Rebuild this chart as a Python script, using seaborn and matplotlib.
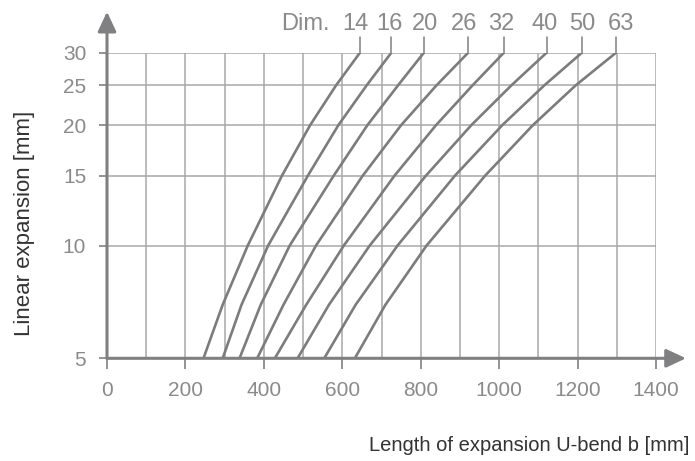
import numpy as np
import pandas as pd
import matplotlib
matplotlib.use('Agg')
import matplotlib.pyplot as plt
import seaborn as sns

# Values
dims = [14, 16, 20, 26, 32, 40, 50, 63]
expansion_mm = [5, 7, 10, 15, 20, 25, 30]
b_14 = [246, 295, 359, 446, 518, 584, 645]
b_16 = [295, 343, 411, 512, 590, 662, 725]
b_20 = [338, 392, 466, 578, 664, 742, 808]
b_26 = [383, 450, 533, 652, 750, 840, 921]
b_32 = [428, 508, 604, 733, 839, 932, 1012]
b_40 = [486, 566, 670, 813, 929, 1031, 1121]
b_50 = [554, 634, 741, 887, 1008, 1115, 1211]
b_63 = [632, 710, 815, 964, 1086, 1195, 1298]
y_ticks = [5, 10, 15, 20, 25, 30]
x_ticks = [0, 200, 400, 600, 800, 1000, 1200, 1400]

curves = [b_14, b_16, b_20, b_26, b_32, b_40, b_50, b_63]
df = pd.DataFrame({
    'dim': np.repeat(dims, len(expansion_mm)),
    'b': np.concatenate(curves),
    'dl': expansion_mm * len(dims),
})

sns.set_style('white')
plt.rcParams['font.family'] = ['Liberation Sans', 'DejaVu Sans']

curve_col = '#7c7c7e'
grid_col = '#a8a8a8'
axis_col = '#808082'
text_col = '#8a8a8c'
title_col = '#333333'

fig = plt.figure(figsize=(6.95, 4.61), dpi=100)
ax = fig.add_axes([107 / 695, (461 - 358.3) / 461, 549 / 695, 305.6 / 461])

ax.set_yscale('function', functions=(lambda y: np.log(np.asarray(y) + 1.0),
                                     lambda v: np.exp(np.asarray(v)) - 1.0))

sns.lineplot(data=df, x='b', y='dl', hue='dim', palette=[curve_col] * len(dims),
             legend=False, linewidth=1.9, ax=ax, sort=False, estimator=None)

ax.set_xlim(0, 1400)
ax.set_ylim(5, 30)
ax.set_xticks(x_ticks)
ax.set_xticks(np.arange(0, 1401, 100), minor=True)
ax.set_yticks(y_ticks)
ax.set_yticklabels([str(v) for v in y_ticks])
ax.grid(True, which='both', axis='x', color=grid_col, linewidth=1.1)
ax.grid(True, which='major', axis='y', color=grid_col, linewidth=1.1)
ax.set_axisbelow(True)
for s in ax.spines.values():
    s.set_visible(False)

ax.tick_params(axis='x', which='major', length=8, width=1.2, color=axis_col,
               labelcolor=text_col, labelsize=15, pad=8, bottom=True, direction='out')
ax.tick_params(axis='x', which='minor', length=0)
ax.tick_params(axis='y', which='major', length=6, width=1.2, color=axis_col,
               labelcolor=text_col, labelsize=15, pad=9, left=True, direction='out')
ax.set_xlabel('')
ax.set_ylabel('')

# axis arrows
arrow = dict(arrowstyle='-|>,head_length=0.6,head_width=0.28', color=axis_col,
             lw=2.2, shrinkA=0, shrinkB=0, mutation_scale=20)
ax.annotate('', xy=(0, 1 + 41 / 305.6), xytext=(0, 0), xycoords='axes fraction',
            arrowprops=arrow, annotation_clip=False)
ax.annotate('', xy=(1 + 30 / 549, 0), xytext=(0, 0), xycoords='axes fraction',
            arrowprops=arrow, annotation_clip=False)

# dimension labels with leader lines
trans = ax.get_xaxis_transform()
label_shift = [-5, -2, 1, -4, -3, -2, 0, 5]
for d, c, sh in zip(dims, curves, label_shift):
    ax.plot([c[-1], c[-1]], [1.0, 1.052], transform=trans, color=axis_col,
            lw=1.1, clip_on=False)
    ax.annotate(str(d), xy=(c[-1], 1.095), xycoords=trans, xytext=(sh, 0),
                textcoords='offset pixels', ha='center', va='center',
                fontsize=17, color=text_col, annotation_clip=False)
ax.annotate('Dim.', xy=(curves[0][-1], 1.095), xycoords=trans, xytext=(-30, 0),
            textcoords='offset pixels', ha='right', va='center',
            fontsize=17, color=text_col, annotation_clip=False)

fig.text(25 / 695, 1 - 223 / 461, 'Linear expansion [mm]', rotation=90,
         ha='center', va='center', fontsize=16, color=title_col)
fig.text(689 / 695, 1 - 445 / 461, 'Length of expansion U-bend b [mm]',
         ha='right', va='center', fontsize=14.5, color=title_col)

fig.savefig('out.png', dpi=100)
